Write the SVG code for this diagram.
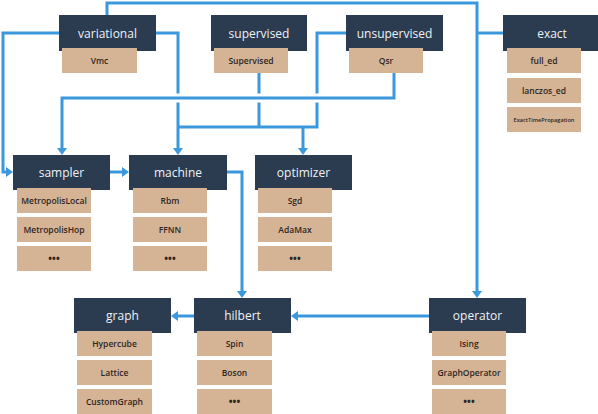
<svg xmlns="http://www.w3.org/2000/svg" width="598" height="414" viewBox="0 0 598 414">
<style>
.hd{fill:#2b3b50}
.tn{fill:#d5b496}
.ht{font-family:"Open Sans","Noto Sans",sans-serif;font-size:12px;font-weight:500;fill:#eef2f6;text-anchor:middle}
.tt{font-family:"Open Sans","Noto Sans",sans-serif;font-size:8.5px;font-weight:600;fill:#2e261e;text-anchor:middle}
.el{font-size:10px;font-weight:700}
.ln{fill:none;stroke:#3b98dc;stroke-width:3}
.gap{fill:none;stroke:#ffffff;stroke-width:9}
</style>
<defs>
<marker id="ar" viewBox="0 0 7 10" markerWidth="7" markerHeight="10" refX="0" refY="5" orient="auto" markerUnits="userSpaceOnUse">
<path d="M0,0 L7,5 L0,10 z" fill="#3b98dc"/>
</marker>
</defs>
<rect width="598" height="414" fill="#ffffff"/>
<g id="connectors">
<path class="ln" d="M107,15 V3 H477 V291" marker-end="url(#ar)"/>
<path class="ln" d="M503,33 H477"/>
<path class="ln" d="M59,33 H3 V172 H6" marker-end="url(#ar)"/>
<path class="ln" d="M156,33 H178 V148" marker-end="url(#ar)"/>
<path class="ln" d="M259,73 V127"/>
<path class="ln" d="M346,33 H317 V127 H178"/>
<path class="ln" d="M303,127 V148" marker-end="url(#ar)"/>
<path class="gap" d="M172,98 H323"/>
<path class="ln" d="M394,73 V98 H62 V148" marker-end="url(#ar)"/>
<path class="ln" d="M110,172 H122" marker-end="url(#ar)"/>
<path class="ln" d="M227,172 H242 V291" marker-end="url(#ar)"/>
<path class="ln" d="M429,316 H298" marker-end="url(#ar)"/>
<path class="ln" d="M194,316 H178" marker-end="url(#ar)"/>
</g>
<g id="variational">
<rect class="hd" x="59" y="15" width="97" height="36"/>
<text class="ht" x="107.5" y="37.5">variational</text>
<rect class="tn" x="62" y="48" width="75" height="25"/>
<text class="tt" x="99.5" y="63.5">Vmc</text>
</g>
<g id="supervised">
<rect class="hd" x="211" y="15" width="96" height="36"/>
<text class="ht" x="259" y="37.5">supervised</text>
<rect class="tn" x="214" y="48" width="74" height="25"/>
<text class="tt" x="251" y="63.5">Supervised</text>
</g>
<g id="unsupervised">
<rect class="hd" x="346" y="15" width="97" height="36"/>
<text class="ht" x="394.5" y="37.5">unsupervised</text>
<rect class="tn" x="349" y="48" width="74" height="25"/>
<text class="tt" x="386" y="63.5">Qsr</text>
</g>
<g id="exact">
<rect class="hd" x="503" y="15" width="95" height="36"/>
<text class="ht" x="552" y="37.5">exact</text>
<rect class="tn" x="507" y="48" width="74" height="25"/>
<text class="tt" x="544" y="63.5">full_ed</text>
<rect class="tn" x="507" y="78" width="74" height="25"/>
<text class="tt" x="544" y="93.5">lanczos_ed</text>
<rect class="tn" x="507" y="107" width="74" height="25"/>
<text class="tt" x="544" y="122" style="font-size:5.6px">ExactTimePropagation</text>
</g>
<g id="sampler">
<rect class="hd" x="13" y="155" width="97" height="35"/>
<text class="ht" x="61.5" y="177">sampler</text>
<rect class="tn" x="17" y="188" width="74" height="25"/>
<text class="tt" x="54" y="203.5">MetropolisLocal</text>
<rect class="tn" x="17" y="217" width="74" height="25"/>
<text class="tt" x="54" y="232.5">MetropolisHop</text>
<rect class="tn" x="17" y="246" width="74" height="25"/>
<text class="tt el" x="54" y="262">•••</text>
</g>
<g id="machine">
<rect class="hd" x="129" y="155" width="98" height="35"/>
<text class="ht" x="178" y="177">machine</text>
<rect class="tn" x="133" y="188" width="74" height="25"/>
<text class="tt" x="170" y="203.5">Rbm</text>
<rect class="tn" x="133" y="217" width="74" height="25"/>
<text class="tt" x="170" y="232.5">FFNN</text>
<rect class="tn" x="133" y="246" width="74" height="25"/>
<text class="tt el" x="170" y="262">•••</text>
</g>
<g id="optimizer">
<rect class="hd" x="255" y="155" width="97" height="35"/>
<text class="ht" x="303.5" y="177">optimizer</text>
<rect class="tn" x="258" y="188" width="74" height="25"/>
<text class="tt" x="295" y="203.5">Sgd</text>
<rect class="tn" x="258" y="217" width="74" height="25"/>
<text class="tt" x="295" y="232.5">AdaMax</text>
<rect class="tn" x="258" y="246" width="74" height="25"/>
<text class="tt el" x="295" y="262">•••</text>
</g>
<g id="graph">
<rect class="hd" x="74" y="298" width="97" height="35"/>
<text class="ht" x="122.5" y="320">graph</text>
<rect class="tn" x="77" y="331" width="75" height="25"/>
<text class="tt" x="114.5" y="346.5">Hypercube</text>
<rect class="tn" x="77" y="360" width="75" height="25"/>
<text class="tt" x="114.5" y="375.5">Lattice</text>
<rect class="tn" x="77" y="389" width="75" height="25"/>
<text class="tt" x="114.5" y="404.5">CustomGraph</text>
</g>
<g id="hilbert">
<rect class="hd" x="194" y="298" width="97" height="35"/>
<text class="ht" x="242.5" y="320">hilbert</text>
<rect class="tn" x="197" y="331" width="75" height="25"/>
<text class="tt" x="234.5" y="346.5">Spin</text>
<rect class="tn" x="197" y="360" width="75" height="25"/>
<text class="tt" x="234.5" y="375.5">Boson</text>
<rect class="tn" x="197" y="389" width="75" height="25"/>
<text class="tt el" x="234.5" y="405">•••</text>
</g>
<g id="operator">
<rect class="hd" x="429" y="298" width="97" height="35"/>
<text class="ht" x="477.5" y="320">operator</text>
<rect class="tn" x="432" y="331" width="74" height="25"/>
<text class="tt" x="469" y="346.5">Ising</text>
<rect class="tn" x="432" y="360" width="74" height="25"/>
<text class="tt" x="469" y="375.5">GraphOperator</text>
<rect class="tn" x="432" y="389" width="74" height="25"/>
<text class="tt el" x="469" y="405">•••</text>
</g>
</svg>
